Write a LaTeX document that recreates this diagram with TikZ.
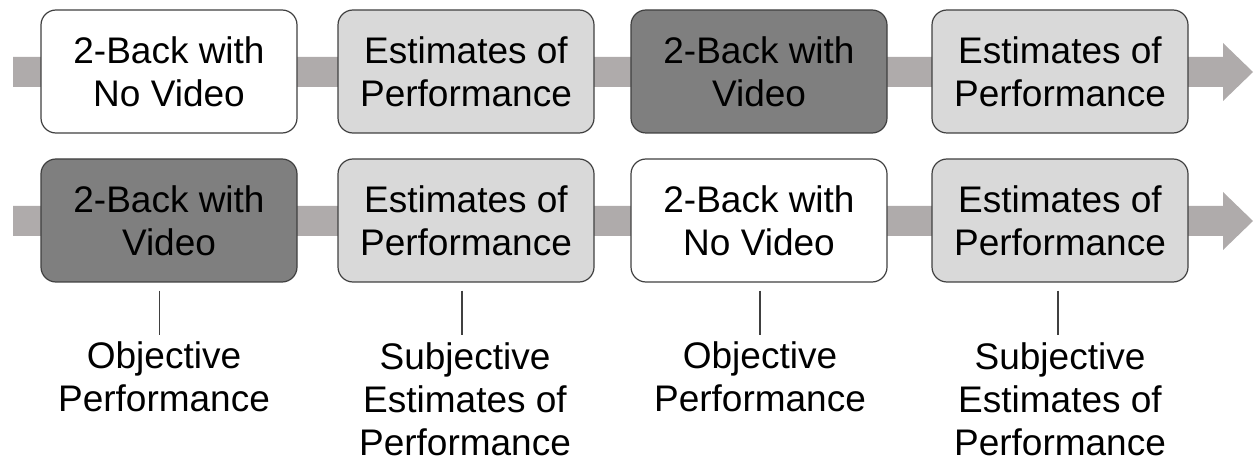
\documentclass[tikz,border=0pt]{standalone}
\usepackage{fontspec}
\setmainfont{Liberation Sans}
\definecolor{bandgray}{HTML}{AFABAB}
\definecolor{lightbox}{HTML}{D9D9D9}
\definecolor{darkbox}{HTML}{7F7F7F}
\definecolor{edgegray}{HTML}{404040}
\begin{document}
\begin{tikzpicture}[x=1pt,y=-1pt,
  stage/.style={draw=edgegray, line width=1.2pt, rounded corners=15pt,
    minimum width=256pt, minimum height=123pt, inner sep=0pt,
    align=center, font=\fontsize{37}{43}\selectfont},
  whitebox/.style={stage, fill=white},
  lightstage/.style={stage, fill=lightbox},
  darkstage/.style={stage, fill=darkbox},
  band/.style={fill=bandgray, draw=none},
  measure/.style={inner sep=0pt, align=center, anchor=north, font=\fontsize{37}{43}\selectfont},
  tick/.style={draw=edgegray, line width=1.2pt}]
\useasboundingbox (0,0) rectangle (1254,465);
% bands
\fill[band] (13,57) -- (1223,57) -- (1223,43) -- (1253,72) -- (1223,101) -- (1223,87) -- (13,87) -- cycle;
\fill[band] (13,206) -- (1223,206) -- (1223,192) -- (1253,221) -- (1223,250) -- (1223,236) -- (13,236) -- cycle;
% row 1
\node[whitebox] (a1) at (169,71.5) {2-Back with\\No Video};
\node[lightstage] (a2) at (466,71.5) {Estimates of\\Performance};
\node[darkstage] (a3) at (759,71.5) {2-Back with\\Video};
\node[lightstage] (a4) at (1060,71.5) {Estimates of\\Performance};
% row 2
\node[darkstage] (b1) at (169,220.5) {2-Back with\\Video};
\node[lightstage] (b2) at (466,220.5) {Estimates of\\Performance};
\node[whitebox] (b3) at (759,220.5) {2-Back with\\No Video};
\node[lightstage] (b4) at (1060,220.5) {Estimates of\\Performance};
% labels
\node[measure] (m1) at (164,341) {Objective\\Performance};
\node[measure] (m2) at (465,342) {Subjective\\Estimates of\\Performance};
\node[measure] (m3) at (760,341) {Objective\\Performance};
\node[measure] (m4) at (1060,342) {Subjective\\Estimates of\\Performance};
% ticks
\draw[tick] ([xshift=-9.5pt,yshift=-8pt]b1.south) -- ([xshift=-9.5pt,yshift=-52pt]b1.south);
\draw[tick] ([xshift=-4pt,yshift=-8pt]b2.south) -- ([xshift=-4pt,yshift=-52pt]b2.south);
\draw[tick] ([xshift=1pt,yshift=-8pt]b3.south) -- ([xshift=1pt,yshift=-52pt]b3.south);
\draw[tick] ([xshift=-2pt,yshift=-8pt]b4.south) -- ([xshift=-2pt,yshift=-52pt]b4.south);
\end{tikzpicture}
\end{document}
